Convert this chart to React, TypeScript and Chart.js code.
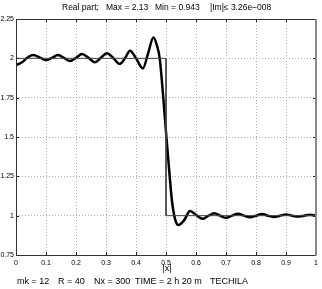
import React, { useEffect, useRef } from "react";
import { Chart, registerables } from "chart.js";

Chart.register(...registerables);

const curveX = [0.0, 0.02, 0.035, 0.057, 0.08, 0.1, 0.12, 0.14, 0.16, 0.18, 0.2, 0.22, 0.242, 0.263, 0.283, 0.303, 0.325, 0.345, 0.363, 0.38, 0.4, 0.423, 0.44, 0.458, 0.47, 0.479, 0.49, 0.5, 0.51, 0.52, 0.53, 0.541, 0.56, 0.58, 0.6, 0.622, 0.64, 0.661, 0.68, 0.7, 0.72, 0.74, 0.76, 0.78, 0.8, 0.82, 0.84, 0.86, 0.88, 0.9, 0.92, 0.94, 0.96, 0.98, 1.0];
const curveY = [1.957, 1.975, 2.0, 2.021, 2.005, 1.989, 2.003, 2.021, 2.003, 1.983, 2.003, 2.027, 2.003, 1.975, 2.003, 2.032, 2.0, 1.964, 2.0, 2.048, 2.0, 1.936, 2.03, 2.133, 2.08, 2.0, 1.77, 1.53, 1.3, 1.09, 0.98, 0.94, 0.97, 1.029, 1.005, 0.98, 0.998, 1.015, 1.0, 0.986, 1.0, 1.012, 1.0, 0.99, 1.0, 1.01, 1.0, 0.992, 1.0, 1.008, 1.0, 0.994, 1.0, 1.006, 1.0];
const stepX = [0, 0.5, 0.5, 1];
const stepY = [2, 2, 1, 1];
const xTicks = [0, 0.1, 0.2, 0.3, 0.4, 0.5, 0.6, 0.7, 0.8, 0.9, 1];
const yTicks = [0.75, 1, 1.25, 1.5, 1.75, 2, 2.25];
const titleParts = ["Real part;", "Max = 2.13", "Min = 0.943", "|Im|\u2264 3.26e\u2212008"];
const titleX = [62, 106, 155, 210];
const xLabel = "|x|";
const footParts = ["mk = 12", "R = 40", "Nx = 300", "TIME = 2 h 20 m", "TECHILA"];
const footX = [17, 58, 94, 135, 210];

const FONT = '"Liberation Sans", Arial, sans-serif';

const fmt = (v: number) => String(Number(v.toFixed(2)));

export default function App() {
  const ref = useRef<HTMLCanvasElement | null>(null);
  useEffect(() => {
    if (!ref.current) return;
    const framePlugin = {
      id: "frame",
      afterDraw(chart: any) {
        const ctx = chart.ctx;
        const a = chart.chartArea;
        const xs = chart.scales.x;
        const ys = chart.scales.y;
        ctx.save();
        // inward ticks
        ctx.strokeStyle = "#222";
        ctx.lineWidth = 1;
        ctx.beginPath();
        xTicks.forEach((t) => {
          const px = Math.round(xs.getPixelForValue(t)) + 0.5;
          ctx.moveTo(px, a.bottom);
          ctx.lineTo(px, a.bottom - 3);
          ctx.moveTo(px, a.top);
          ctx.lineTo(px, a.top + 3);
        });
        yTicks.forEach((t) => {
          const py = Math.round(ys.getPixelForValue(t)) + 0.5;
          ctx.moveTo(a.left, py);
          ctx.lineTo(a.left + 3, py);
          ctx.moveTo(a.right, py);
          ctx.lineTo(a.right - 3, py);
        });
        ctx.stroke();
        // frame
        ctx.strokeStyle = "#333";
        ctx.lineWidth = 1;
        ctx.strokeRect(Math.round(a.left) + 0.5, Math.round(a.top) + 0.5, Math.round(a.right - a.left) - 1, Math.round(a.bottom - a.top));
        ctx.strokeStyle = "#888";
        ctx.lineWidth = 2;
        ctx.beginPath();
        ctx.moveTo(Math.round(a.right), a.top);
        ctx.lineTo(Math.round(a.right), a.bottom + 1);
        ctx.stroke();
        // texts
        ctx.fillStyle = "#000";
        ctx.textBaseline = "middle";
        ctx.textAlign = "left";
        ctx.font = "8.5px " + FONT;
        titleParts.forEach((t, i) => ctx.fillText(t, titleX[i], 8));
        ctx.font = "9px " + FONT;
        ctx.textAlign = "center";
        ctx.fillText(xLabel, 167, 269);
        ctx.textAlign = "left";
        footParts.forEach((t, i) => ctx.fillText(t, footX[i], 282));
        ctx.restore();
      },
    };
    const chart = new Chart(ref.current, {
      type: "line",
      data: {
        datasets: [
          {
            data: stepX.map((x, i) => ({ x, y: stepY[i] })),
            borderColor: "#444",
            borderWidth: 1,
            pointRadius: 0,
            tension: 0,
          },
          {
            data: curveX.map((x, i) => ({ x, y: curveY[i] })),
            borderColor: "#000",
            borderWidth: 2.5,
            pointRadius: 0,
            cubicInterpolationMode: "monotone",
          },
        ],
      },
      options: {
        responsive: false,
        animation: false,
        devicePixelRatio: 1,
        layout: { padding: { top: 19, right: 5, left: 0, bottom: 0 } },
        plugins: { legend: { display: false }, tooltip: { enabled: false } },
        scales: {
          x: {
            type: "linear",
            min: 0,
            max: 1,
            afterBuildTicks: (s: any) => {
              s.ticks = xTicks.map((v) => ({ value: v }));
            },
            afterFit: (s: any) => {
              s.height = 34;
            },
            ticks: {
              callback: (v: any) => fmt(Number(v)),
              font: { size: 7, family: FONT },
              color: "#000",
              padding: 4,
              maxRotation: 0,
              autoSkip: false,
            },
            grid: { color: "#aaa", drawTicks: false },
            border: { display: false, dash: [1, 2] },
          },
          y: {
            type: "linear",
            min: 0.75,
            max: 2.25,
            afterBuildTicks: (s: any) => {
              s.ticks = yTicks.map((v) => ({ value: v }));
            },
            afterFit: (s: any) => {
              s.width = 16;
            },
            ticks: {
              callback: (v: any) => fmt(Number(v)),
              font: { size: 7, family: FONT },
              color: "#000",
              padding: 2,
              autoSkip: false,
            },
            grid: { color: "#aaa", drawTicks: false },
            border: { display: false, dash: [1, 2] },
          },
        },
      } as any,
      plugins: [framePlugin],
    });
    return () => chart.destroy();
  }, []);
  return (
    <div style={{ position: "fixed", left: 0, top: 0, width: 322, height: 289, background: "#fff" }}>
      <canvas ref={ref} width={322} height={289} style={{ display: "block", width: 322, height: 289 }} />
    </div>
  );
}
